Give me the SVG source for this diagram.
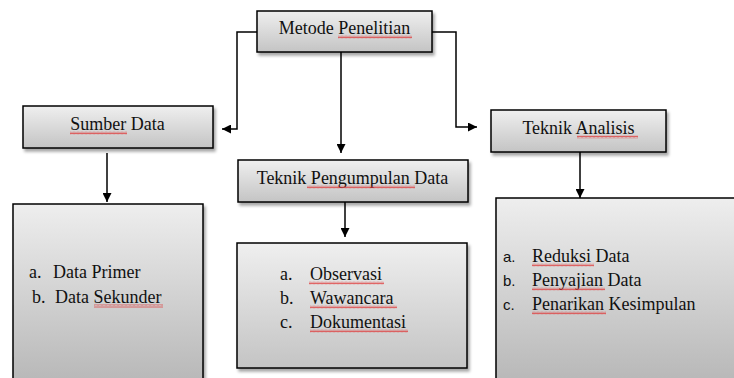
<svg xmlns="http://www.w3.org/2000/svg" width="734" height="378" viewBox="0 0 734 378">
<defs>
  <linearGradient id="g" x1="0" y1="0" x2="0" y2="1">
    <stop offset="0" stop-color="#efefef"/>
    <stop offset="1" stop-color="#c4c4c4"/>
  </linearGradient>
  <linearGradient id="gt" x1="0" y1="0" x2="0" y2="1">
    <stop offset="0" stop-color="#eeeeee"/>
    <stop offset="1" stop-color="#b4b4b4"/>
  </linearGradient>
  <filter id="sh" x="-10%" y="-10%" width="120%" height="130%">
    <feDropShadow dx="2" dy="3" stdDeviation="1.5" flood-color="#000" flood-opacity="0.35"/>
  </filter>
  <pattern id="sq" width="4" height="3" patternUnits="userSpaceOnUse">
    <path d="M0,2.5 L1,0.5 L2,2.5 L3,0.5 L4,2.5" fill="none" stroke="#e03030" stroke-width="0.7"/>
  </pattern>
  <marker id="ah" viewBox="0 0 10 10" refX="10" refY="5" markerWidth="9" markerHeight="9" markerUnits="userSpaceOnUse" orient="auto">
    <path d="M0,0 L10,5 L0,10 z" fill="#000"/>
  </marker>
</defs>
<style>
  .box { fill: url(#g); stroke: #000; stroke-width: 1.5; filter: url(#sh); }
  .tall { fill: url(#gt); stroke: #000; stroke-width: 1.5; filter: url(#sh); }
  .t { font-size: 18px; fill: #111; }
  .s { font-size: 15px; fill: #111; }
  .c { text-anchor: middle; }
  .con { fill: none; stroke: #000; stroke-width: 1.5; marker-end: url(#ah); }
  .sq { fill: url(#sq); }
</style>

<g id="connectors">
  <path class="con" d="M257,32 H237 V129 H222"/>
  <path class="con" d="M341,52 V153"/>
  <path class="con" d="M432,32 H456 V127 H477"/>
  <path class="con" d="M107,153 V202"/>
  <path class="con" d="M345,202 V237"/>
  <path class="con" d="M580,152 V198"/>
</g>

<g font-family="'Liberation Serif', 'DejaVu Serif', serif">
<g id="metode-penelitian">
  <rect class="box" x="257" y="11" width="175" height="41"/>
  <text class="t c" x="344.5" y="34">Metode Penelitian</text>
  <rect class="sq" x="338" y="35.5" width="74" height="3"/>
</g>

<g id="sumber-data">
  <rect class="box" x="23" y="106" width="190" height="42"/>
  <text class="t c" x="117.5" y="130">Sumber Data</text>
  <rect class="sq" x="70" y="131.5" width="57" height="3"/>
</g>

<g id="teknik-pengumpulan-data">
  <rect class="box" x="238" y="160" width="230" height="42"/>
  <text class="t c" x="352.5" y="184">Teknik Pengumpulan Data</text>
  <rect class="sq" x="307" y="185.5" width="108" height="3"/>
</g>

<g id="teknik-analisis">
  <rect class="box" x="491" y="110" width="175" height="42"/>
  <text class="t c" x="578.5" y="134">Teknik Analisis</text>
  <rect class="sq" x="577" y="135.5" width="61" height="3"/>
</g>

<g id="sumber-list">
  <rect class="tall" x="13" y="204" width="190" height="190"/>
  <text class="t" x="29" y="278">a.</text>
  <text class="t" x="53" y="278">Data Primer</text>
  <text class="t" x="32" y="303">b.</text>
  <text class="t" x="55" y="303">Data Sekunder</text>
  <rect class="sq" x="94" y="304.5" width="69" height="3"/>
</g>

<g id="pengumpulan-list">
  <rect class="box" x="237" y="243" width="230" height="125"/>
  <text class="t" x="280" y="280">a.</text>
  <text class="t" x="310" y="280">Observasi</text>
  <rect class="sq" x="309" y="281.5" width="75" height="3"/>
  <text class="t" x="280" y="304">b.</text>
  <text class="t" x="310" y="304">Wawancara</text>
  <rect class="sq" x="310" y="305.5" width="87" height="3"/>
  <text class="t" x="280" y="328">c.</text>
  <text class="t" x="310" y="328">Dokumentasi</text>
  <rect class="sq" x="310" y="329.5" width="98" height="3"/>
</g>

<g id="analisis-list">
  <rect class="tall" x="496" y="198" width="250" height="196"/>
  <text class="s" x="503" y="262" font-family="'Liberation Sans', Arial, sans-serif">a.</text>
  <text class="t" x="532" y="262">Reduksi Data</text>
  <rect class="sq" x="532" y="263.5" width="62" height="3"/>
  <text class="s" x="503" y="286" font-family="'Liberation Sans', Arial, sans-serif">b.</text>
  <text class="t" x="532" y="286">Penyajian Data</text>
  <rect class="sq" x="532" y="287.5" width="73" height="3"/>
  <text class="s" x="503" y="310" font-family="'Liberation Sans', Arial, sans-serif">c.</text>
  <text class="t" x="532" y="310">Penarikan Kesimpulan</text>
  <rect class="sq" x="532" y="311.5" width="74" height="3"/>
</g>
</g>
</svg>
